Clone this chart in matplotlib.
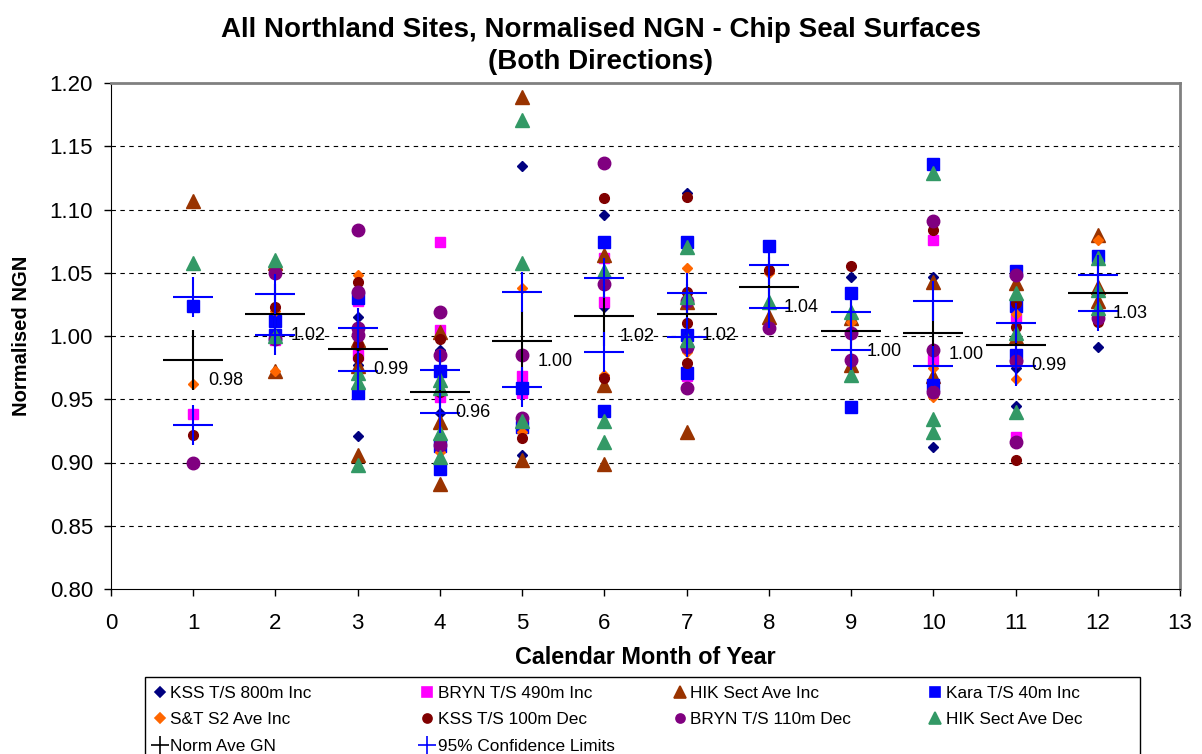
import matplotlib
matplotlib.use("Agg")
import matplotlib.pyplot as plt
import numpy as np
from matplotlib.lines import Line2D
from matplotlib.patches import Rectangle

plt.rcParams["font.family"] = ["Liberation Sans", "DejaVu Sans"]

MONTHS = list(range(1, 13))

# Site readings: month of each reading, and the normalised NGN value
KSS800_X = [3, 3, 3, 4, 4, 5, 5, 6, 6, 6, 7, 7, 9, 10, 10, 11, 11, 12]
KSS800_Y = [1.015, 0.977, 0.921, 0.989, 0.939, 1.134, 0.906, 1.096, 1.023, 0.967,
            1.113, 1.034, 1.047, 1.047, 0.912, 0.975, 0.945, 0.991]

BRYN490_X = [1, 2, 3, 3, 4, 4, 4, 5, 5, 6, 6, 7, 10, 10, 11, 11]
BRYN490_Y = [0.938, 0.997, 1.028, 0.985, 1.074, 1.005, 0.952, 0.968, 0.955, 1.062,
             1.027, 0.968, 1.076, 0.981, 1.014, 0.920]

HIKINC_X = [1, 2, 2, 3, 3, 3, 4, 4, 4, 5, 5, 6, 6, 6, 7, 7, 8, 9, 9, 10, 10,
            11, 11, 12, 12, 12]
HIKINC_Y = [1.107, 1.058, 0.972, 0.997, 0.976, 0.906, 1.003, 0.932, 0.883, 1.189,
            0.902, 1.064, 0.961, 0.899, 1.027, 0.924, 1.015, 1.014, 0.977, 1.043,
            0.968, 1.042, 0.999, 1.080, 1.039, 1.028]

KARA_X = [1, 2, 2, 3, 3, 4, 4, 4, 5, 5, 6, 6, 7, 7, 7, 8, 9, 9, 10, 10, 11, 11,
          11, 12]
KARA_Y = [1.024, 1.012, 1.001, 1.030, 0.955, 0.972, 0.913, 0.895, 0.959, 0.928,
          1.074, 0.941, 1.074, 1.001, 0.971, 1.071, 1.034, 0.944, 1.136, 0.961,
          1.051, 1.024, 0.985, 1.063]

ST_X = [1, 2, 2, 3, 3, 4, 5, 5, 6, 7, 7, 7, 8, 9, 10, 10, 11, 11, 12]
ST_Y = [0.962, 1.020, 0.972, 1.048, 1.008, 0.908, 1.038, 0.924, 0.969, 1.054,
        1.010, 0.987, 1.050, 1.011, 0.975, 0.952, 1.017, 0.966, 1.076]

KSS100_X = [1, 2, 3, 3, 3, 4, 4, 5, 6, 6, 7, 7, 7, 7, 8, 9, 10, 11, 11, 11, 12]
KSS100_Y = [0.922, 1.023, 1.043, 0.993, 0.983, 0.998, 0.956, 0.919, 1.109, 0.967,
            1.110, 1.035, 1.010, 0.979, 1.052, 1.055, 1.084, 1.026, 1.007, 0.902,
            1.011]

BRYN110_X = [1, 2, 2, 3, 3, 3, 3, 4, 4, 4, 5, 5, 6, 6, 7, 7, 7, 8, 9, 9, 10, 10,
             10, 11, 11, 11, 12]
BRYN110_Y = [0.900, 1.050, 0.998, 1.084, 1.035, 1.006, 1.001, 1.019, 0.985, 0.914,
             0.985, 0.935, 1.137, 1.041, 1.028, 0.991, 0.959, 1.006, 1.002, 0.981,
             1.091, 0.989, 0.956, 1.048, 0.980, 0.916, 1.014]

HIKDEC_X = [1, 2, 2, 3, 3, 3, 4, 4, 4, 4, 5, 5, 5, 6, 6, 6, 7, 7, 7, 8, 9, 9, 10,
            10, 10, 11, 11, 11, 12, 12, 12]
HIKDEC_Y = [1.058, 1.060, 1.000, 0.971, 0.964, 0.898, 0.965, 0.959, 0.923, 0.904,
            1.171, 1.058, 0.933, 1.051, 0.933, 0.916, 1.070, 1.031, 0.997, 1.027,
            1.019, 0.969, 1.129, 0.934, 0.924, 1.034, 1.002, 0.940, 1.062, 1.036,
            1.022]

NORM_AVE = [0.981, 1.017, 0.990, 0.956, 0.996, 1.016, 1.017, 1.039, 1.004, 1.002,
            0.993, 1.034]
CI_UPPER = [1.031, 1.033, 1.006, 0.973, 1.035, 1.046, 1.034, 1.056, 1.019, 1.028,
            1.010, 1.048]
CI_LOWER = [0.930, 1.001, 0.972, 0.939, 0.960, 0.987, 0.999, 1.022, 0.989, 0.976,
            0.976, 1.020]

W, H = 1202, 754
fig = plt.figure(figsize=(W / 100, H / 100), dpi=100)
ax = fig.add_axes([111 / W, 1 - 589 / H, (1180 - 111) / W, (589 - 83) / H])

series = [
    ("KSS T/S 800m Inc", KSS800_X, KSS800_Y, "D", "#000080", 5.5),
    ("BRYN T/S 490m Inc", BRYN490_X, BRYN490_Y, "s", "#FF00FF", 7),
    ("HIK Sect Ave Inc", HIKINC_X, HIKINC_Y, "^", "#993300", 10),
    ("Kara T/S 40m Inc", KARA_X, KARA_Y, "s", "#0000FF", 8),
    ("S&T S2 Ave Inc", ST_X, ST_Y, "D", "#FF6600", 5.5),
    ("KSS T/S 100m Dec", KSS100_X, KSS100_Y, "o", "#800000", 7),
    ("BRYN T/S 110m Dec", BRYN110_X, BRYN110_Y, "o", "#800080", 9),
    ("HIK Sect Ave Dec", HIKDEC_X, HIKDEC_Y, "^", "#339966", 10),
]

handles = {}
for label, xs, ys, mk, col, ms in series:
    h, = ax.plot(xs, ys, linestyle="none", marker=mk, color=col, markersize=ms,
                 markeredgecolor=col, label=label, zorder=3)
    handles[label] = h

h_norm, = ax.plot(MONTHS, NORM_AVE, linestyle="none", marker="+", color="black",
                  markersize=43, markeredgewidth=1.5, label="Norm Ave GN", zorder=4)
ax.plot(MONTHS, CI_UPPER, linestyle="none", marker="+", color="#0000FF",
        markersize=29, markeredgewidth=1.5, zorder=5)
h_ci, = ax.plot(MONTHS, CI_LOWER, linestyle="none", marker="+", color="#0000FF",
                markersize=29, markeredgewidth=1.5, label="95% Confidence Limits",
                zorder=5)
handles["Norm Ave GN"] = h_norm
handles["95% Confidence Limits"] = h_ci

for m, v in zip(MONTHS, NORM_AVE):
    ax.annotate(f"{v:.2f}", (m, v), xytext=(11, -15), textcoords="offset points",
                ha="left", va="center", fontsize=13, zorder=6)

ax.set_xlim(0, 13)
ax.set_ylim(0.8, 1.2)
ax.set_xticks(range(0, 14))
yt = np.arange(0.80, 1.201, 0.05)
ax.set_yticks(yt)
ax.set_yticklabels([f"{t:.2f}" for t in yt])
ax.tick_params(labelsize=16, direction="out", length=5, width=1, color="black")
ax.tick_params(axis="x", pad=12)
ax.tick_params(axis="y", pad=8)
for y in np.arange(0.85, 1.16, 0.05):
    ax.axhline(y, color="black", linestyle=(0, (4, 4)), linewidth=0.8, zorder=1)
ax.spines["left"].set_color("black")
ax.spines["bottom"].set_color("black")
for s in ("top", "right"):
    ax.spines[s].set_color("#808080")
    ax.spines[s].set_linewidth(2)

ax.set_xlabel("Calendar Month of Year", fontsize=16.8, fontweight="bold", labelpad=9)
ax.set_ylabel("Normalised NGN", fontsize=14.5, fontweight="bold", labelpad=13)
fig.text(0.5, 1 - 17 / H,
         "All Northland Sites, Normalised NGN - Chip Seal Surfaces\n(Both Directions)",
         ha="center", va="top", fontsize=20, fontweight="bold", linespacing=1.3)

# legend: four columns laid out like the spreadsheet legend
columns = [
    (160, ["KSS T/S 800m Inc", "S&T S2 Ave Inc", "Norm Ave GN"]),
    (427, ["BRYN T/S 490m Inc", "KSS T/S 100m Dec", "95% Confidence Limits"]),
    (680, ["HIK Sect Ave Inc", "BRYN T/S 110m Dec"]),
    (935, ["Kara T/S 40m Inc", "HIK Sect Ave Dec"]),
]
leg_ms = {"D": 5, "s": 6.5, "^": 8.5, "o": 6.5, "+": 13}
for xpix, names in columns:
    proxies = []
    for n in names:
        h = handles[n]
        mk = h.get_marker()
        proxies.append(Line2D([], [], linestyle="none", marker=mk, color=h.get_color(),
                              markersize=leg_ms[mk], markeredgewidth=1.2))
    fig.legend(proxies, names, loc="upper left",
               bbox_to_anchor=((xpix - 5) / W, 1 - 686 / H),
               fontsize=12.4, frameon=False, borderaxespad=0, borderpad=0,
               handlelength=0.6, handletextpad=0.3, labelspacing=0.66)
fig.add_artist(Rectangle((145 / W, -0.02), (1140 - 145) / W, 0.02 + 1 - 677 / H,
                         transform=fig.transFigure, fill=False, edgecolor="black",
                         linewidth=1))

fig.savefig("out.png", dpi=100)
